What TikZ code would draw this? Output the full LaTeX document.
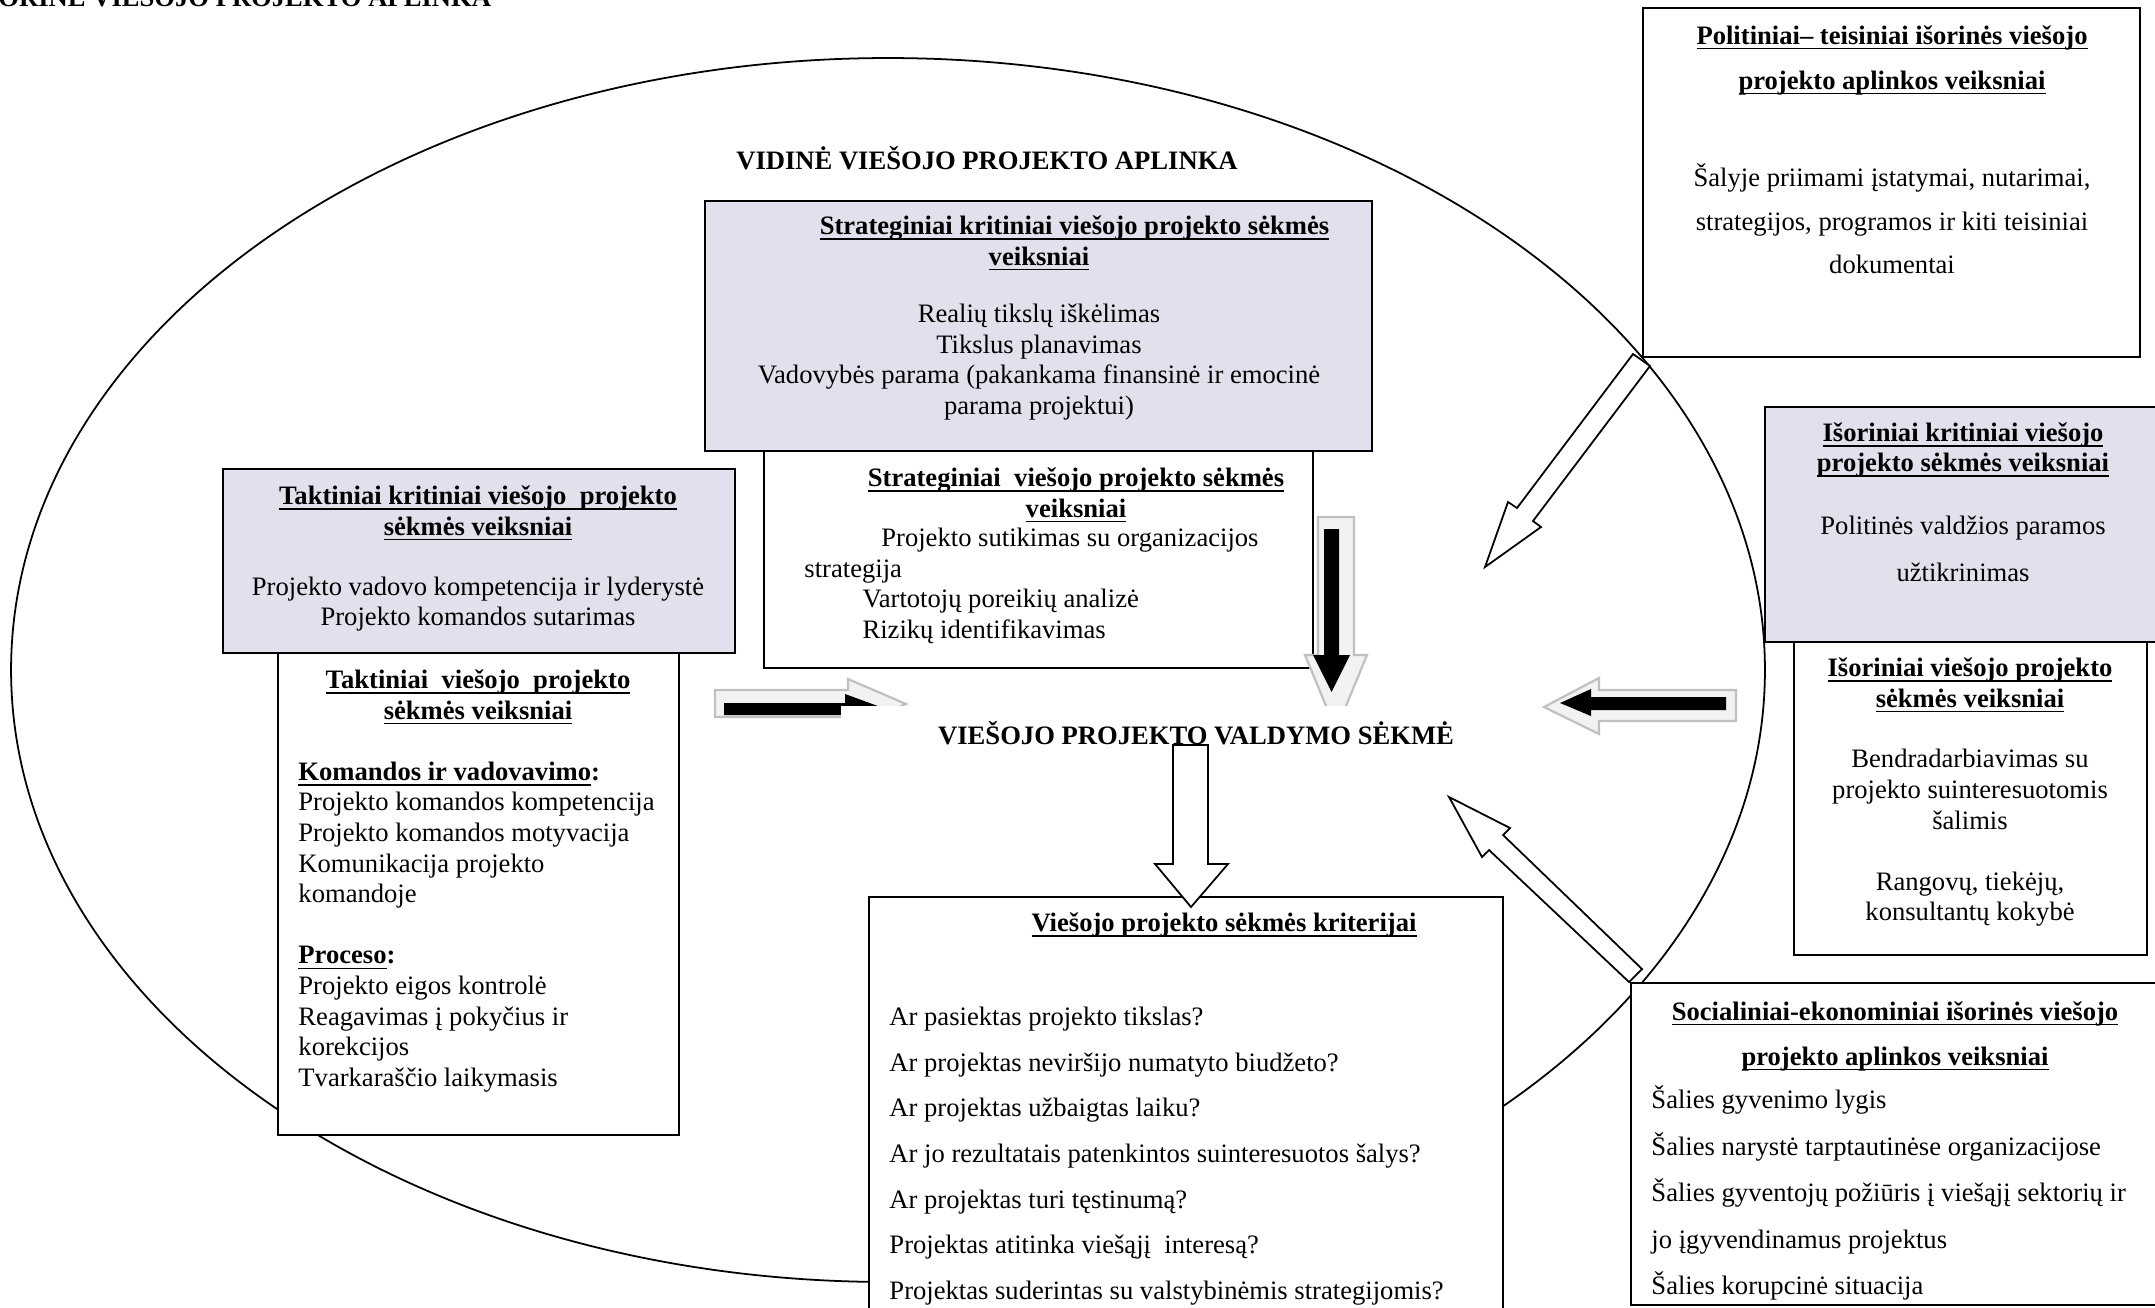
\documentclass[tikz,border=0pt]{standalone}
\usepackage{fontspec}
\setmainfont{Liberation Serif}
\usetikzlibrary{fit,shapes.geometric}
\definecolor{critfill}{RGB}{228,223,236}
\definecolor{shadeline}{RGB}{192,192,192}
\definecolor{shadefill}{RGB}{242,242,242}
% underline drawn as a rule just below the baseline
\newlength\ulnwd
\newcommand\uln[1]{\settowidth\ulnwd{#1}\rlap{\rule[-2.4pt]{\ulnwd}{0.8pt}}#1}

\begin{document}
\begin{tikzpicture}[x=0.451pt,y=-0.451pt,
  box/.style={draw=black, line width=0.9pt, fill=white, inner sep=0pt},
  critbox/.style={box, fill=critfill},
  body/.style={inner sep=0pt, align=center, font=\fontsize{12}{13.8}\selectfont},
  bodyleft/.style={body, align=left},
  bodywide/.style={inner sep=0pt, align=center, font=\fontsize{12}{20.6}\selectfont},
  head/.style={inner sep=0pt, align=center, font=\fontsize{12}{13.8}\selectfont\bfseries},
  headwide/.style={inner sep=0pt, align=center, font=\fontsize{12}{20.3}\selectfont\bfseries},
  blockarrow/.style={draw=black, line width=0.8pt, fill=white, line join=miter},
  shadearrow/.style={draw=shadeline, line width=1pt, fill=shadefill},
  solidarrow/.style={fill=black, draw=none}
]
\useasboundingbox (0,0) rectangle (2155,1307);

% inner environment
\node[ellipse, draw, line width=0.8pt, minimum width=791pt, minimum height=552pt, inner sep=0pt] (innerenv) at (888,670) {};

% headings of the two environments
\node[head, anchor=base west] (outertitle) at (-2,6) {ORINĖ VIEŠOJO PROJEKTO APLINKA};
\node[head] (innertitle) at (987,158) {VIDINĖ VIEŠOJO PROJEKTO APLINKA};

% political-legal factors
\node[box, fit={(1643,8) (2140,357)}] (polbox) {};
\node[headwide] (poltitle) at (1892,60) {\uln{Politiniai– teisiniai išorinės viešojo}\\\uln{projekto aplinkos veiksniai}};
\node[body, font=\fontsize{12}{19.6}\selectfont] (poltext) at (1892,219) {Šalyje priimami įstatymai, nutarimai,\\strategijos, programos ir kiti teisiniai\\dokumentai};

% strategic factors
\node[critbox, fit={(705,201) (1372,451)}] (stratcrit) {};
\node[head] (stratcrittitle) at (1039,243) {\hspace*{32pt}\uln{Strateginiai kritiniai viešojo projekto sėkmės}\\\uln{veiksniai}};
\node[body] (stratcrittext) at (1039,362) {Realių tikslų iškėlimas\\Tikslus planavimas\\Vadovybės parama (pakankama finansinė ir emocinė\\parama projektui)};

\node[box, fit={(764,451) (1313,668)}] (strat) {};
\node[head] (strattitle) at (1076,495) {\uln{Strateginiai~ viešojo projekto sėkmės}\\\uln{veiksniai}};
\node[bodyleft, anchor=west] (strattext) at (804,586) {\hspace*{34.7pt}Projekto sutikimas su organizacijos\\strategija\\\hspace*{26.2pt}Vartotojų poreikių analizė\\\hspace*{26.2pt}Rizikų identifikavimas};

% tactical factors
\node[critbox, fit={(223,469) (735,653)}] (taktcrit) {};
\node[head] (taktcrittitle) at (478,513) {\uln{Taktiniai kritiniai viešojo~ projekto}\\\uln{sėkmės veiksniai}};
\node[body] (taktcrittext) at (478,604) {Projekto vadovo kompetencija ir lyderystė\\Projekto komandos sutarimas};

\node[box, fit={(278,653) (679,1135)}] (takt) {};
\node[head] (takttitle) at (478,697) {\uln{Taktiniai~ viešojo~ projekto}\\\uln{sėkmės veiksniai}};
\node[bodyleft, anchor=west] (takttext) at (298,927) {\textbf{\uln{Komandos ir vadovavimo}:}\\Projekto komandos kompetencija\\Projekto komandos motyvacija\\Komunikacija projekto\\komandoje\\[13.8pt]\textbf{\uln{Proceso}:}\\Projekto eigos kontrolė\\Reagavimas į pokyčius ir\\korekcijos\\Tvarkaraščio laikymasis};

% external critical factors
\node[critbox, fit={(1765,407) (2175,642)}] (extcrit) {};
\node[head] (extcrittitle) at (1963,450) {\uln{Išoriniai kritiniai viešojo}\\\uln{projekto sėkmės veiksniai}};
\node[bodywide, font=\fontsize{12}{21.2}\selectfont] (extcrittext) at (1963,549) {Politinės valdžios paramos\\užtikrinimas};

\node[box, fit={(1794,642) (2147,955)}] (ext) {};
\node[head] (exttitle) at (1970,685) {\uln{Išoriniai viešojo projekto}\\\uln{sėkmės veiksniai}};
\node[body] (exttext) at (1970,838) {Bendradarbiavimas su\\projekto suinteresuotomis\\šalimis\\[13.8pt]Rangovų, tiekėjų,\\konsultantų kokybė};

% success criteria
\node[box, fit={(869,897) (1503,1340)}] (crit) {};
\node[head] (crittitle) at (1224,925) {\uln{Viešojo projekto sėkmės kriterijai}};
\node[bodywide, align=left, anchor=west] (crittext) at (889,1156) {Ar pasiektas projekto tikslas?\\Ar projektas neviršijo numatyto biudžeto?\\Ar projektas užbaigtas laiku?\\Ar jo rezultatais patenkintos suinteresuotos šalys?\\Ar projektas turi tęstinumą?\\Projektas atitinka viešąjį~ interesą?\\Projektas suderintas su valstybinėmis strategijomis?};

% socio-economic factors
\node[box, fit={(1631,983) (2175,1305)}] (soc) {};
\node[headwide] (soctitle) at (1895,1036) {\uln{Socialiniai-ekonominiai išorinės viešojo}\\\uln{projekto aplinkos veiksniai}};
\node[bodywide, align=left, anchor=west, font=\fontsize{12}{21}\selectfont] (soctext) at (1651,1193) {Šalies gyvenimo lygis\\Šalies narystė tarptautinėse organizacijose\\Šalies gyventojų požiūris į viešąjį sektorių ir\\jo įgyvendinamus projektus\\Šalies korupcinė situacija};

% shadowed arrows from the tactical and strategic factors
\draw[shadearrow] (715,690) -- (848,690) -- (848,679) -- (906,704) -- (848,729) -- (848,717) -- (715,717) -- cycle;
\fill[solidarrow] (724,703) -- (845,703) -- (845,694) -- (886,709) -- (845,724) -- (845,715) -- (724,715) -- cycle;
\draw[shadearrow] (1318,517) -- (1354,517) -- (1354,655) -- (1367,655) -- (1336,730) -- (1305,655) -- (1318,655) -- cycle;
\fill[solidarrow] (1324,529) -- (1339,529) -- (1339,655) -- (1350,655) -- (1331.5,692) -- (1313,655) -- (1324,655) -- cycle;

% central result
\fill[white] (841,706) rectangle (1480,765);
\node[head] (success) at (1196,733) {VIEŠOJO PROJEKTO VALDYMO SĖKMĖ};

% shadowed arrow from the external factors
\draw[shadearrow] (1736,690) -- (1736,721) -- (1599,721) -- (1599,734) -- (1544,707) -- (1599,678) -- (1599,690) -- cycle;
\fill[solidarrow] (1726,697) -- (1726,710) -- (1591,710) -- (1591,716) -- (1560,703) -- (1591,689) -- (1591,697) -- cycle;

% outline arrows
\draw[blockarrow] (1173,745) -- (1208,745) -- (1208,864) -- (1228,864) -- (1191,907) -- (1155,864) -- (1173,864) -- cycle;
\draw[blockarrow] (1633,354) -- (1517,508) -- (1508,502) -- (1485,567) -- (1541,527) -- (1533,521) -- (1650,366) -- cycle;
\draw[blockarrow] (1449,797) -- (1510,828) -- (1503,835) -- (1642,969) -- (1629,982) -- (1489,850) -- (1482,857) -- cycle;

\end{tikzpicture}
\end{document}
